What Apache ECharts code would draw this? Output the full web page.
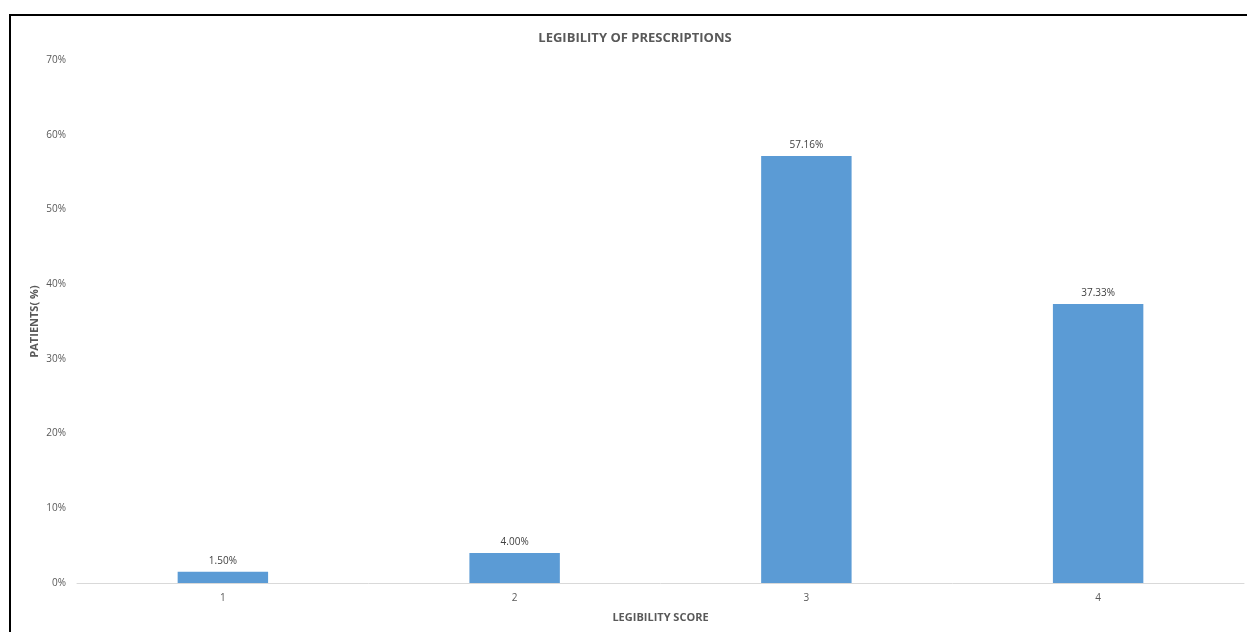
<!DOCTYPE html>
<html>
<head>
<meta charset="utf-8">
<script src="https://cdn.jsdelivr.net/npm/echarts@6/dist/echarts.min.js"></script>
<style>
html,body{margin:0;padding:0;background:#fff;}
#frame{position:absolute;left:9px;top:14px;width:1300px;height:700px;border-top:2px solid #000;border-left:2px solid #000;}
#chart{position:absolute;left:0;top:0;width:1247px;height:632px;}
</style>
</head>
<body>
<div id="frame"></div>
<div id="chart"></div>
<script>
const categories = ['1', '2', '3', '4'];
const values = [1.50, 4.00, 57.16, 37.33];
const yTicks = [0, 10, 20, 30, 40, 50, 60, 70];

const chart = echarts.init(document.getElementById('chart'), null, {renderer: 'canvas'});
const font = 'Open Sans, Liberation Sans, sans-serif';
chart.setOption({
  animation: false,
  backgroundColor: 'transparent',
  title: {
    text: 'LEGIBILITY OF PRESCRIPTIONS',
    left: 630, top: 27, textAlign: 'center',
    textStyle: {fontFamily: font, fontSize: 13, fontWeight: 'bold', color: '#595959'}
  },
  grid: {left: 77, right: 3, top: 60, bottom: 49, containLabel: false},
  xAxis: {
    type: 'category',
    data: categories,
    name: 'LEGIBILITY SCORE',
    nameLocation: 'middle',
    nameGap: 29,
    nameMoveOverlap: false,
    nameTextStyle: {fontFamily: font, fontSize: 11, fontWeight: 'bold', color: '#595959'},
    axisLine: {lineStyle: {color: '#d9d9d9', width: 1}},
    axisTick: {show: false},
    axisLabel: {fontFamily: font, fontSize: 10, color: '#595959', margin: 10}
  },
  yAxis: {
    type: 'value',
    min: yTicks[0], max: yTicks[yTicks.length - 1], interval: 10,
    name: 'PATIENTS( %)',
    nameLocation: 'middle',
    nameGap: 37,
    nameMoveOverlap: false,
    nameRotate: 90,
    nameTextStyle: {fontFamily: font, fontSize: 11, fontWeight: 'bold', color: '#595959'},
    splitLine: {show: false},
    axisLine: {show: false},
    axisTick: {show: false},
    axisLabel: {fontFamily: font, fontSize: 10, color: '#595959', margin: 11, formatter: v => v + '%'}
  },
  series: [{
    type: 'bar',
    data: values,
    barWidth: '31%',
    itemStyle: {color: '#5b9bd5'},
    label: {
      show: true, position: 'top', distance: 6,
      fontFamily: font, fontSize: 10, color: '#404040',
      formatter: p => p.value.toFixed(2) + '%'
    }
  }]
});
</script>
</body>
</html>
